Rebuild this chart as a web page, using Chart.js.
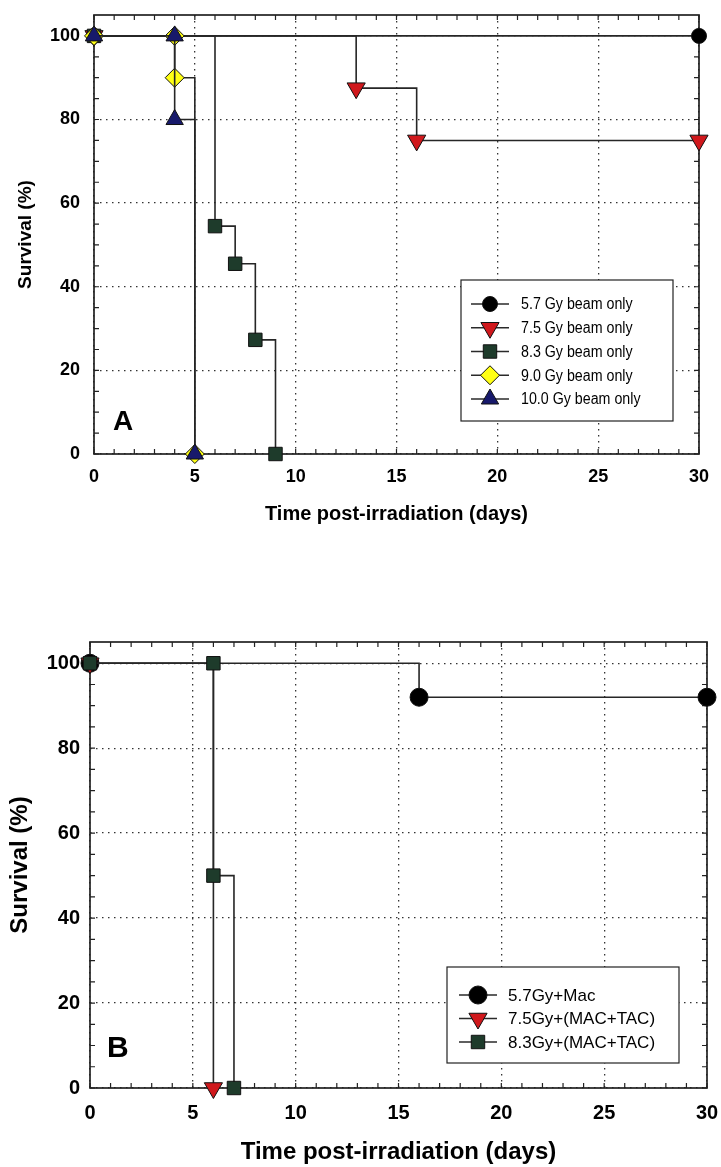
<!DOCTYPE html>
<html>
<head>
<meta charset="utf-8">
<script src="https://cdn.jsdelivr.net/npm/chart.js@4.4.0/dist/chart.umd.min.js"></script>
<style>
  body { margin: 0; background: #fff; }
  #wrapA { position: absolute; left: 0; top: 0; width: 721px; height: 540px; }
  #wrapB { position: absolute; left: 0; top: 560px; width: 721px; height: 607px; }
</style>
</head>
<body>
<div id="wrapA"><canvas id="chartA"></canvas></div>
<div id="wrapB"><canvas id="chartB"></canvas></div>
<script>
// ---- panel A : beam only ----
var labelsA = ['5.7 Gy beam only', '7.5 Gy beam only', '8.3 Gy beam only', '9.0 Gy beam only', '10.0 Gy beam only'];
var daysA57 = [0, 30];
var survA57 = [100, 100];
var daysA75 = [0, 13, 16, 30];
var survA75 = [100, 87.5, 75, 75];
var daysA83 = [0, 6, 7, 8, 9];
var survA83 = [100, 54.5, 45.5, 27.3, 0];
var daysA90 = [0, 4, 4, 5];
var survA90 = [100, 100, 90, 0];
var daysA100 = [0, 4, 4, 5];
var survA100 = [100, 100, 80, 0];

// ---- panel B : beam + treatment ----
var labelsB = ['5.7Gy+Mac', '7.5Gy+(MAC+TAC)', '8.3Gy+(MAC+TAC)'];
var daysB57 = [0, 16, 30];
var survB57 = [100, 92, 92];
var daysB75 = [0, 6];
var survB75 = [100, 0];
var daysB83 = [0, 6, 6, 7];
var survB83 = [100, 100, 50, 0];

var xTicksStep = 5;
var yTicksStep = 20;

var FONT = "'Liberation Sans', Arial, sans-serif";
Chart.defaults.font.family = FONT;
Chart.defaults.color = '#000';

// marker looks
var mkCircle = { shape: 'circle', fill: '#000000' };
var mkTriDown = { shape: 'triangle', rot: 180, fill: '#d0181c' };
var mkSquare = { shape: 'rect', fill: '#1e3b2b' };
var mkDiamond = { shape: 'rectRot', fill: '#ffff14' };
var mkTriUp = { shape: 'triangle', rot: 0, fill: '#17196b' };

function makeSet(label, days, surv, mk, r, order) {
    return {
        label: label,
        data: days.map(function (d, i) { return { x: d, y: surv[i] }; }),
        stepped: true,
        borderColor: '#262626',
        borderWidth: 1.6,
        fill: false,
        pointStyle: mk.shape,
        pointRotation: mk.rot || 0,
        pointRadius: r,
        pointHoverRadius: r,
        pointBackgroundColor: mk.fill,
        pointBorderColor: '#111',
        pointBorderWidth: 1,
        clip: false,
        order: order
    };
}

function drawMarker(ctx, ds, x, y) {
    var r = ds.pointRadius;
    ctx.save();
    ctx.fillStyle = ds.pointBackgroundColor;
    ctx.strokeStyle = '#111';
    ctx.lineWidth = 1;
    ctx.beginPath();
    if (ds.pointStyle === 'circle') {
        ctx.arc(x, y, r, 0, Math.PI * 2);
    } else if (ds.pointStyle === 'rect') {
        var s = r * Math.SQRT1_2;
        ctx.rect(x - s, y - s, 2 * s, 2 * s);
    } else if (ds.pointStyle === 'rectRot') {
        ctx.moveTo(x - r, y); ctx.lineTo(x, y - r); ctx.lineTo(x + r, y); ctx.lineTo(x, y + r);
        ctx.closePath();
    } else {
        var rad = (ds.pointRotation || 0) * Math.PI / 180;
        ctx.moveTo(x + Math.sin(rad) * r, y - Math.cos(rad) * r);
        rad += Math.PI * 2 / 3;
        ctx.lineTo(x + Math.sin(rad) * r, y - Math.cos(rad) * r);
        rad += Math.PI * 2 / 3;
        ctx.lineTo(x + Math.sin(rad) * r, y - Math.cos(rad) * r);
        ctx.closePath();
    }
    ctx.fill();
    ctx.stroke();
    ctx.restore();
}

// frame, inner ticks, panel letter and boxed legend
function framePlugin(cfg) {
    return {
        id: 'frame' + cfg.letter,
        beforeDatasetsDraw: function (chart) {
            var ctx = chart.ctx, a = chart.chartArea, xs = chart.scales.x, ys = chart.scales.y;
            ctx.save();
            ctx.strokeStyle = '#222';
            ctx.lineWidth = 1.2;
            ctx.beginPath();
            for (var d = 0; d <= 30; d += 1) {
                var px = xs.getPixelForValue(d);
                ctx.moveTo(px, a.bottom); ctx.lineTo(px, a.bottom - 5);
                ctx.moveTo(px, a.top); ctx.lineTo(px, a.top + 5);
            }
            for (var v = 0; v <= 100; v += 5) {
                var py = ys.getPixelForValue(v);
                ctx.moveTo(a.left, py); ctx.lineTo(a.left + 5, py);
                ctx.moveTo(a.right, py); ctx.lineTo(a.right - 5, py);
            }
            ctx.stroke();
            ctx.lineWidth = 1.7;
            ctx.strokeRect(a.left, a.top, a.right - a.left, a.bottom - a.top);
            ctx.restore();
        },
        afterDatasetsDraw: function (chart) {
            var ctx = chart.ctx, lg = cfg.legend;
            ctx.save();
            // letter
            ctx.fillStyle = '#000';
            ctx.font = 'bold ' + cfg.letterSize + 'px ' + FONT;
            ctx.textAlign = 'left';
            ctx.textBaseline = 'alphabetic';
            ctx.fillText(cfg.letter, cfg.letterX, cfg.letterY);
            // legend box
            ctx.fillStyle = '#fff';
            ctx.fillRect(lg.x, lg.y, lg.w, lg.h);
            ctx.strokeStyle = '#222';
            ctx.lineWidth = 1.2;
            ctx.strokeRect(lg.x, lg.y, lg.w, lg.h);
            chart.data.datasets.forEach(function (ds, i) {
                var ry = lg.y + lg.first + i * lg.step;
                var cx = lg.x + lg.sym;
                ctx.strokeStyle = '#2a2a2a';
                ctx.lineWidth = 1.5;
                ctx.beginPath();
                ctx.moveTo(cx - 19, ry); ctx.lineTo(cx + 19, ry);
                ctx.stroke();
                drawMarker(ctx, ds, cx, ry);
                ctx.save();
                ctx.fillStyle = '#000';
                ctx.font = lg.fontSize + 'px ' + FONT;
                ctx.textAlign = 'left';
                ctx.textBaseline = 'middle';
                ctx.translate(lg.x + lg.text, ry + 1);
                ctx.scale(lg.squeeze, 1);
                ctx.fillText(ds.label, 0, 0);
                ctx.restore();
            });
            ctx.restore();
        }
    };
}

function makeOptions(p) {
    return {
        responsive: true,
        maintainAspectRatio: false,
        animation: false,
        events: [],
        layout: { padding: p.pad, autoPadding: false },
        plugins: { legend: { display: false }, tooltip: { enabled: false } },
        scales: {
            x: {
                type: 'linear', min: 0, max: 30,
                ticks: {
                    stepSize: xTicksStep, includeBounds: false, maxRotation: 0,
                    color: '#000', padding: p.xTickPad,
                    font: { size: p.tickSize, weight: 'bold' }
                },
                grid: { color: '#333', lineWidth: 1.3, drawTicks: false },
                border: { display: false, dash: [1.5, 4.5] },
                title: {
                    display: true, text: 'Time post-irradiation (days)', color: '#000',
                    font: { size: p.xTitleSize, weight: 'bold' },
                    padding: { top: 0, bottom: p.xTitlePad }
                },
                afterFit: function (s) { s.height = p.xHeight; s.paddingLeft = 0; s.paddingRight = 0; }
            },
            y: {
                type: 'linear', min: 0, max: 105,
                ticks: {
                    stepSize: yTicksStep, includeBounds: false,
                    color: '#000', padding: p.yTickPad,
                    font: { size: p.tickSize, weight: 'bold' }
                },
                grid: { color: '#333', lineWidth: 1.3, drawTicks: false },
                border: { display: false, dash: [1.5, 4.5] },
                title: {
                    display: true, text: 'Survival (%)', color: '#000',
                    font: { size: p.yTitleSize, weight: 'bold' },
                    padding: { top: p.yTitlePad, bottom: 0 }
                },
                afterFit: function (s) { s.width = p.yWidth; s.paddingTop = 0; s.paddingBottom = 0; }
            }
        }
    };
}

new Chart(document.getElementById('chartA'), {
    type: 'line',
    data: {
        datasets: [
            makeSet(labelsA[0], daysA57, survA57, mkCircle, 7.5, 5),
            makeSet(labelsA[1], daysA75, survA75, mkTriDown, 10.5, 4),
            makeSet(labelsA[2], daysA83, survA83, mkSquare, 9.5, 3),
            makeSet(labelsA[3], daysA90, survA90, mkDiamond, 9.5, 2),
            makeSet(labelsA[4], daysA100, survA100, mkTriUp, 10, 1)
        ]
    },
    options: makeOptions({
        pad: { top: 15, right: 22, bottom: 0, left: 0 },
        xHeight: 86, yWidth: 94,
        tickSize: 18, xTickPad: 12, yTickPad: 14,
        xTitleSize: 20, xTitlePad: 14,
        yTitleSize: 19, yTitlePad: 14
    }),
    plugins: [framePlugin({
        letter: 'A', letterSize: 28, letterX: 113, letterY: 430,
        legend: { x: 461, y: 280, w: 212, h: 141, first: 24, step: 23.75, sym: 29, text: 60, fontSize: 16, squeeze: 0.89 }
    })]
});

new Chart(document.getElementById('chartB'), {
    type: 'line',
    data: {
        datasets: [
            makeSet(labelsB[0], daysB57, survB57, mkCircle, 9, 3),
            makeSet(labelsB[1], daysB75, survB75, mkTriDown, 10.5, 2),
            makeSet(labelsB[2], daysB83, survB83, mkSquare, 9.5, 1)
        ]
    },
    options: makeOptions({
        pad: { top: 82, right: 14, bottom: 0, left: 0 },
        xHeight: 79, yWidth: 90,
        tickSize: 20, xTickPad: 13, yTickPad: 10,
        xTitleSize: 24, xTitlePad: 0,
        yTitleSize: 24, yTitlePad: 6
    }),
    plugins: [framePlugin({
        letter: 'B', letterSize: 30, letterX: 107, letterY: 497,
        legend: { x: 447, y: 407, w: 232, h: 96, first: 28, step: 23.5, sym: 31, text: 61, fontSize: 17, squeeze: 1 }
    })]
});
</script>
</body>
</html>
